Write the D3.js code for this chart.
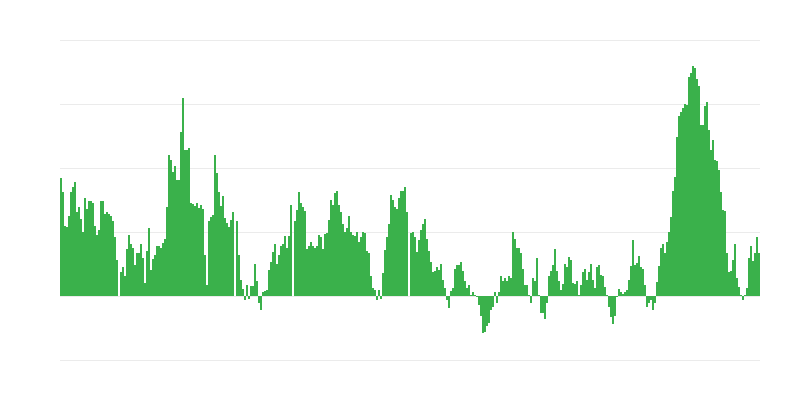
<!DOCTYPE html>
<html>
<head>
<meta charset="utf-8">
<script src="https://cdn.jsdelivr.net/npm/d3@7"></script>
<style>
  body { margin: 0; background: #fff; }
  .grid line { stroke: #ebebeb; }
  .grid path { display: none; }
</style>
</head>
<body>
<div id="chart"></div>
<script>
// daily values (one bar per day)
var values = [
  185,162,109,108,125,162,170,178,131,139,120,100,153,136,148,148,145,109,95,103,
  148,148,128,131,128,125,117,92,56,0,37,45,31,73,95,81,75,48,67,67,
  81,59,21,70,106,40,58,64,78,78,75,83,89,139,220,212,194,203,
  181,181,256,309,228,228,231,145,144,140,145,137,142,136,64,17,117,124,126,220,
  192,162,140,156,122,114,108,119,131,0,117,64,25,11,-6,17,-5,15,15,50,
  23,-11,-22,6,8,9,40,53,69,81,50,64,78,81,94,75,94,
  142,0,117,134,162,145,139,133,73,78,84,78,75,78,95,92,73,97,98,119,
  150,142,161,164,142,131,113,100,106,125,100,95,94,100,84,92,100,98,70,67,
  31,12,10,-7,9,-4,36,72,92,113,158,150,139,136,153,164,164,
  170,131,0,98,100,92,68,88,103,113,120,89,70,53,37,39,45,41,50,25,
  12,-6,-19,8,12,42,48,48,53,39,23,12,17,2,6,1,-2,-14,-32,-58,
  -56,-47,-42,-22,-17,7,-11,6,31,23,28,23,31,28,100,89,75,75,
  67,42,17,17,2,-11,28,23,59,1,-26,-26,-36,-11,31,39,48,73,39,23,
  9,19,50,45,61,56,20,19,23,2,17,37,42,25,37,50,25,12,45,48,
  33,31,14,1,-17,-33,-43,-31,-2,11,6,3,6,9,25,47,88,48,
  51,62,45,42,17,-17,-11,-6,-22,-11,22,47,75,81,67,84,100,123,164,186,
  248,281,287,293,300,298,342,348,359,357,339,328,267,267,297,303,259,228,244,212,
  211,197,163,134,133,67,38,39,56,81,28,14,2,-6,1,12,59,78,54,67,92,67
];
var yTicks = [-100, 0, 100, 200, 300, 400];

var width = 800, height = 400;
var margin = {top: 40, right: 40, bottom: 40, left: 60};
var innerWidth = width - margin.left - margin.right;
var innerHeight = height - margin.top - margin.bottom;

var svg = d3.select('#chart')
      .append('svg')
      .attr('width', width)
      .attr('height', height);

var g = svg.append('g')
      .attr('transform', 'translate(' + margin.left + ',' + margin.top + ')');

var xScale = d3.scaleBand()
      .domain(d3.range(values.length))
      .range([0, innerWidth])
      .padding(0);

var yScale = d3.scaleLinear()
      .domain([-100, 400])
      .range([innerHeight, 0]);

// gridlines only, no labels
g.append('g')
  .attr('class', 'grid')
  .call(d3.axisLeft(yScale)
        .tickValues(yTicks)
        .tickSize(-innerWidth)
        .tickFormat(''));

g.selectAll('.bar')
  .data(values)
  .enter()
  .append('rect')
  .attr('class', 'bar')
  .attr('x', function(d, i) { return xScale(i); })
  .attr('width', xScale.bandwidth())
  .attr('y', function(d) { return yScale(Math.max(0, d)); })
  .attr('height', function(d) { return Math.abs(yScale(d) - yScale(0)); })
  .attr('fill', '#3ab14b')
  .attr('shape-rendering', 'crispEdges');
</script>
</body>
</html>
